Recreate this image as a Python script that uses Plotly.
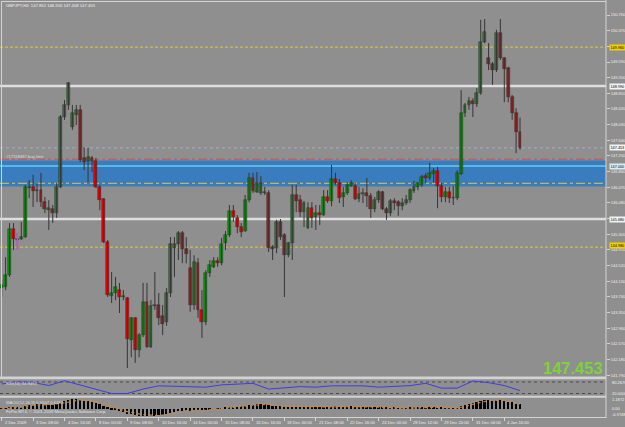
import plotly.graph_objects as go

W, H = 625, 427
def px(x): return x / W
def py(y): return 1 - y / H

# ---------------- data (GBPJPY H4 candles) ----------------
open_ = [143.96, 143.99, 144.29, 145.43, 145.16, 145.18, 145.23, 146.45, 146.48, 146.38,
         146.40, 146.10, 145.90, 145.93, 145.83, 146.48, 148.22, 148.52, 147.97, 148.27,
         148.40, 147.20, 147.13, 147.20, 147.13, 146.48, 146.18, 145.11, 143.76, 143.84,
         143.91, 143.74, 143.71, 142.67, 143.22, 142.42, 142.79, 143.61, 142.49, 143.51,
         143.54, 143.27, 143.12, 143.84, 144.96, 145.06, 145.33, 144.93, 144.46, 143.54,
         144.58, 143.42, 143.12, 144.34, 144.49, 144.63, 144.58, 145.08, 145.28, 145.88,
         145.71, 145.48, 145.38, 146.15, 146.70, 146.35, 146.33, 146.33, 146.33, 144.98,
         144.96, 145.61, 145.28, 144.78, 145.08, 146.28, 146.15, 145.85, 145.46, 145.95,
         145.73, 145.83, 145.78, 146.23, 146.13, 146.68, 146.58, 146.23, 146.33, 146.50,
         146.50, 146.18, 146.30, 146.33, 146.25, 145.93, 146.15, 146.35, 145.93, 145.83,
         146.13, 146.10, 146.00, 146.08, 146.15, 146.38, 146.48, 146.53, 146.75, 146.70,
         146.80, 146.88, 146.50, 146.23, 146.35, 146.20, 146.20, 146.80, 148.32, 148.52,
         148.62, 148.54, 148.82, 150.09, 149.69, 149.54, 149.39, 150.31, 149.69, 149.44,
         148.72, 148.32, 147.852]
high = [144.16, 144.73, 145.58, 145.58, 145.33, 145.61, 146.53, 146.65, 146.78, 146.58,
        146.83, 146.23, 146.15, 146.03, 146.58, 148.27, 148.64, 149.09, 148.52, 148.52,
        148.52, 147.47, 147.45, 147.25, 147.20, 146.53, 146.20, 145.16, 144.36, 144.24,
        144.09, 143.91, 143.74, 143.24, 143.24, 142.84, 144.09, 144.09, 143.66, 144.36,
        143.84, 143.54, 143.96, 145.23, 145.23, 145.38, 145.38, 145.23, 144.91, 144.78,
        144.71, 143.91, 144.41, 144.66, 144.73, 144.73, 145.21, 145.38, 146.03, 146.03,
        145.78, 145.58, 146.28, 146.83, 146.83, 146.85, 146.75, 146.48, 146.40, 145.03,
        145.66, 145.68, 145.33, 145.11, 146.53, 146.53, 146.28, 146.13, 146.10, 146.10,
        146.03, 146.03, 146.40, 146.40, 147.03, 146.83, 146.68, 146.48, 146.60, 146.65,
        146.58, 146.48, 146.45, 146.70, 146.33, 146.23, 146.40, 146.38, 145.98, 146.18,
        146.20, 146.15, 146.20, 146.28, 146.45, 146.63, 146.60, 146.78, 146.83, 147.08,
        146.95, 146.98, 146.58, 146.48, 146.48, 146.50, 146.90, 148.89, 148.57, 148.72,
        148.69, 148.94, 150.64, 150.66, 150.06, 149.59, 150.39, 150.66, 149.71, 149.47,
        148.77, 148.44, 148.206]
low = [143.74, 143.91, 144.24, 144.91, 144.91, 145.16, 145.21, 146.20, 145.98, 146.10,
       145.98, 145.83, 145.41, 145.58, 145.71, 146.45, 148.15, 148.40, 147.90, 148.02,
       147.10, 146.90, 146.60, 146.85, 146.45, 145.90, 145.08, 143.74, 143.59, 143.66,
       143.34, 143.66, 141.97, 142.24, 142.10, 142.24, 142.74, 142.47, 142.47, 143.42,
       143.04, 142.79, 143.02, 143.74, 144.24, 144.66, 144.58, 144.58, 143.37, 143.42,
       143.22, 142.72, 143.04, 144.24, 144.46, 144.49, 144.53, 144.91, 145.23, 145.61,
       145.33, 145.23, 145.36, 146.10, 146.33, 146.33, 146.28, 146.28, 144.86, 144.66,
       144.83, 145.16, 143.74, 144.73, 144.66, 145.85, 145.73, 145.48, 145.43, 145.46,
       145.41, 145.53, 145.76, 146.08, 146.00, 146.53, 146.08, 145.98, 146.28, 146.48,
       146.15, 146.10, 146.08, 145.98, 145.71, 145.85, 146.08, 145.90, 145.66, 145.76,
       145.90, 145.76, 145.90, 146.03, 146.08, 146.33, 146.40, 146.48, 146.58, 146.65,
       146.58, 145.95, 146.10, 146.10, 146.08, 146.03, 146.15, 146.78, 148.22, 148.40,
       148.22, 148.47, 148.77, 150.06, 149.39, 149.02, 149.34, 149.64, 148.59, 148.59,
       148.15, 147.32, 147.408]
close = [144.04, 144.29, 145.43, 145.18, 145.18, 145.23, 146.48, 146.48, 146.38, 146.40,
         146.10, 145.93, 145.95, 145.83, 146.48, 148.22, 148.52, 149.07, 148.32, 148.40,
         147.15, 147.10, 147.22, 147.13, 146.48, 146.15, 145.11, 143.79, 143.84, 143.99,
         143.74, 143.74, 142.69, 143.22, 142.42, 142.79, 143.61, 142.49, 143.51, 143.54,
         143.22, 143.07, 143.84, 145.06, 145.06, 145.33, 144.93, 144.81, 143.54, 144.61,
         143.42, 143.12, 144.34, 144.53, 144.63, 144.58, 145.06, 145.28, 145.88, 145.73,
         145.48, 145.36, 146.15, 146.70, 146.38, 146.58, 146.58, 146.33, 144.96, 144.93,
         145.61, 145.23, 144.78, 145.08, 146.28, 146.13, 145.85, 146.08, 145.95, 145.71,
         145.83, 145.78, 146.23, 146.13, 146.68, 146.58, 146.20, 146.33, 146.53, 146.58,
         146.18, 146.30, 146.33, 146.25, 145.93, 146.15, 146.35, 145.93, 145.83, 146.13,
         146.08, 146.00, 146.08, 146.15, 146.40, 146.48, 146.58, 146.73, 146.70, 146.83,
         146.88, 146.50, 146.23, 146.35, 146.20, 146.20, 146.83, 148.32, 148.52, 148.62,
         148.54, 148.82, 150.09, 150.34, 149.54, 149.39, 150.31, 149.69, 149.42, 148.72,
         148.32, 147.85, 147.453]

# oscillator window (sampled every 4 bars)
rsi_bars = [0, 4, 8, 12, 16, 20, 24, 28, 32, 36, 40, 44, 48, 52, 56, 60, 64, 68, 72, 76,
            80, 84, 88, 92, 96, 100, 104, 108, 112, 116, 120, 124, 128, 132]
rsi_vals = [70, 80, 78, 61.5, 86.5, 65, 40, 20, 20, 43, 60, 56.5, 53, 53, 65, 70, 73, 43, 48, 56,
            53, 60, 60, 60, 53, 56, 61, 73, 48, 48, 85, 76.5, 61.5, 35]
rsi_levels = [80, 20]

# MACD histogram (every bar) and signal (sampled every 4 bars)
macd_hist = [0.02, 0.05, 0.14, 0.20, 0.25, 0.29, 0.40, 0.48, 0.53, 0.57,
             0.57, 0.54, 0.52, 0.49, 0.55, 0.78, 0.95, 1.12, 1.18, 1.19,
             1.12, 1.03, 0.95, 0.86, 0.74, 0.60, 0.40, 0.12, -0.08, -0.21,
             -0.33, -0.42, -0.61, -0.66, -0.79, -0.86, -0.88, -0.97, -0.93, -0.86,
             -0.80, -0.77, -0.68, -0.52, -0.40, -0.27, -0.22, -0.17, -0.22, -0.16,
             -0.17, -0.20, -0.12, -0.05, 0.00, 0.03, 0.09, 0.15, 0.24, 0.27,
             0.29, 0.30, 0.38, 0.48, 0.52, 0.57, 0.60, 0.61, 0.47, 0.38,
             0.37, 0.31, 0.22, 0.18, 0.26, 0.29, 0.27, 0.27, 0.24, 0.22,
             0.20, 0.19, 0.22, 0.22, 0.29, 0.31, 0.29, 0.28, 0.30, 0.31,
             0.28, 0.27, 0.26, 0.25, 0.20, 0.19, 0.20, 0.16, 0.12, 0.12,
             0.11, 0.09, 0.09, 0.09, 0.11, 0.13, 0.15, 0.18, 0.19, 0.21,
             0.22, 0.17, 0.12, 0.10, 0.07, 0.05, 0.10, 0.33, 0.50, 0.63,
             0.72, 0.82, 1.05, 1.15, 1.10, 1.04, 1.09, 1.06, 1.00, 0.90,
             0.80, 0.67, 0.55]
signal_vals = [0.0, 0.15, 0.45, 0.53, 0.75, 1.15, 0.90, 0.30, -0.35, -0.75, -0.85, -0.60, -0.22,
               -0.17, 0.0, 0.25, 0.45, 0.57, 0.32, 0.27, 0.23, 0.24, 0.29, 0.28, 0.21, 0.13,
               0.09, 0.16, 0.17, 0.08, 0.52, 1.05, 1.10, 0.62]

# time axis labels (every 8 bars)
time_labels = ["2 Dec 2009", "3 Dec 08:00", "4 Dec 16:00", "8 Dec 00:00", "9 Dec 08:00",
               "10 Dec 16:00", "14 Dec 00:00", "15 Dec 08:00", "16 Dec 16:00", "18 Dec 00:00",
               "21 Dec 08:00", "22 Dec 16:00", "24 Dec 00:00", "28 Dec 12:00", "29 Dec 20:00",
               "31 Dec 04:00", "4 Jan 16:00"]
price_ticks = [141.79, 142.18, 142.57, 142.96, 143.35, 143.74, 144.13, 144.52, 144.91, 145.30,
               145.69, 146.08, 146.47, 146.86, 147.25, 147.64, 148.03, 148.42, 148.81, 149.20,
               149.59, 149.98, 150.37, 150.76]

# chart objects (price levels)
tp_levels = [149.96, 144.98]          # yellow dashed
white_levels = [148.99, 145.68]       # white solid
bid_price = 147.453
order_price = 147.00                  # cyan (buy limit)
order_band = [146.49, 147.14]
red_dashdot = 147.17
yellow_dashdot = 146.57

BG = "#8f8f8f"
LIGHT = "#d4d4d4"
FONT = "Liberation Sans, Arial, sans-serif"

n = len(close)
idx = list(range(n))

fig = go.Figure()

# wicks
wx, wy = [], []
for i in idx:
    wx += [i, i, None]
    wy += [low[i], high[i], None]
fig.add_trace(go.Scatter(x=wx, y=wy, mode="lines", line=dict(color="#353535", width=1),
                         xaxis="x", yaxis="y", hoverinfo="skip", showlegend=False))
# magenta marker line on bar 4
fig.add_trace(go.Scatter(x=[4, 4], y=[low[4], high[4]], mode="lines",
                         line=dict(color="#e040e0", width=1.5), xaxis="x", yaxis="y",
                         showlegend=False, hoverinfo="skip"))
# bodies
base = [min(o, c) for o, c in zip(open_, close)]
hgt = [max(abs(c - o), 0.012) for o, c in zip(open_, close)]
cols = ["#0c960c" if c >= o else "#f00000" for o, c in zip(open_, close)]
fig.add_trace(go.Bar(x=idx, y=hgt, base=base, width=0.74,
                     marker=dict(color=cols, line=dict(color="#2a2a2a", width=0.5)),
                     xaxis="x", yaxis="y", showlegend=False, hoverinfo="skip"))

# RSI-type oscillator
fig.add_trace(go.Scatter(x=rsi_bars, y=rsi_vals, mode="lines",
                         line=dict(color="#3d3de6", width=1), xaxis="x2", yaxis="y2",
                         showlegend=False, hoverinfo="skip"))

# MACD
fig.add_trace(go.Bar(x=idx, y=macd_hist, width=0.45, marker=dict(color="#000000", line=dict(width=0)),
                     xaxis="x3", yaxis="y3", showlegend=False, hoverinfo="skip"))
fig.add_trace(go.Scatter(x=rsi_bars, y=signal_vals, mode="lines",
                         line=dict(color="#e8821e", width=1.2, dash="dot"), xaxis="x3", yaxis="y3",
                         showlegend=False, hoverinfo="skip"))

shapes = []
XR = px(606)
# order band and lines
shapes.append(dict(type="rect", xref="paper", yref="y", x0=0, x1=XR, y0=order_band[0], y1=order_band[1],
                   fillcolor="#3a7cbd", line=dict(width=0), layer="below"))
shapes.append(dict(type="line", xref="paper", yref="y", x0=0, x1=XR, y0=order_price, y1=order_price,
                   line=dict(color="#5fd0f0", width=1.5), layer="below"))
shapes.append(dict(type="line", xref="paper", yref="y", x0=0, x1=XR, y0=yellow_dashdot, y1=yellow_dashdot,
                   line=dict(color="#d8cc48", width=1, dash="dashdot"), layer="below"))
shapes.append(dict(type="line", xref="paper", yref="y", x0=0, x1=XR, y0=red_dashdot, y1=red_dashdot,
                   line=dict(color="#d05050", width=1, dash="dashdot"), layer="below"))
shapes.append(dict(type="line", xref="paper", yref="y", x0=0, x1=XR, y0=bid_price, y1=bid_price,
                   line=dict(color="#a9a9c6", width=1, dash="dot"), layer="below"))
for lv in tp_levels:
    shapes.append(dict(type="line", xref="paper", yref="y", x0=0, x1=XR, y0=lv, y1=lv,
                       line=dict(color="#dcc83c", width=1, dash="3px,2px"), layer="below"))
for lv in white_levels:
    shapes.append(dict(type="line", xref="paper", yref="y", x0=0, x1=XR, y0=lv, y1=lv,
                       line=dict(color="#dedede", width=2.5), layer="below"))
for lv in rsi_levels:
    shapes.append(dict(type="line", xref="paper", yref="y2", x0=0, x1=XR, y0=lv, y1=lv,
                       line=dict(color="#4a4a4a", width=1, dash="dot"), layer="below"))

# frames / separators
shapes += [
    dict(type="line", xref="paper", yref="paper", x0=px(1.5), x1=XR, y0=py(1.5), y1=py(1.5),
         line=dict(color=LIGHT, width=1)),
    dict(type="line", xref="paper", yref="paper", x0=px(1.5), x1=px(1.5), y0=py(1.5), y1=py(377),
         line=dict(color=LIGHT, width=1)),
    dict(type="line", xref="paper", yref="paper", x0=XR, x1=XR, y0=py(0), y1=py(418),
         line=dict(color=LIGHT, width=1)),
    dict(type="rect", xref="paper", yref="paper", x0=0, x1=XR, y0=py(379.2), y1=py(376.6),
         fillcolor="#d2d2d2", line=dict(width=0)),
    dict(type="rect", xref="paper", yref="paper", x0=0, x1=XR, y0=py(397.8), y1=py(395.8),
         fillcolor="#d2d2d2", line=dict(width=0)),
    dict(type="line", xref="paper", yref="paper", x0=0, x1=XR, y0=py(417.5), y1=py(417.5),
         line=dict(color=LIGHT, width=1)),
]

ann = []
def txt(x, y, s, size=4.2, color="#f2f2f2", xanchor="left", **kw):
    ann.append(dict(x=x, y=y, xref="paper", yref="paper", text=s, showarrow=False,
                    xanchor=xanchor, yanchor="middle", font=dict(family=FONT, size=size, color=color), **kw))

txt(px(4), py(5), "GBPJPY,H4  147.852 148.206 147.408 147.453")
txt(px(4), py(156.5), "#17158487 buy limit", color="#dedede")
txt(px(4), py(383), "RSI(14) 34.9453", color="#dedede")
txt(px(4), py(402), "MACD(12,26,9) 0.5507 0.6182", color="#dedede")
txt(px(4), py(411.5), "FxPro MT4, \u00a9 2001-2009 MetaQuotes Software Corp.", color="#e8e8e8")
txt(px(605), py(367.5), "<b>" + format(close[-1], ".3f") + "</b>", size=16.5, color="#7ed23a", xanchor="right")

# sub-window scale labels
txt(px(610), py(382), "80.2676", size=4)
txt(px(610), py(393.5), "20.0000", size=4)
txt(px(610), py(399), "1.1872", size=4)
txt(px(610), py(408.5), "0.00", size=4)
txt(px(610), py(414), "-0.9748", size=4)

# highlighted price labels on the right scale (they cover the scale label beneath them)
tagged = tp_levels + white_levels + [bid_price, order_price]
def tag(price, bg, yshift=0):
    ann.append(dict(x=px(608.5), y=price, xref="paper", yref="y", text=format(price, ".3f"),
                    showarrow=False, xanchor="left", yanchor="middle", bgcolor=bg, borderpad=0.5,
                    yshift=yshift, font=dict(family=FONT, size=3.8, color="#000000")))
tag(tp_levels[0], "#f2d000")
tag(tp_levels[1], "#f2d000", yshift=1.5)
for lv in white_levels:
    tag(lv, "#f4f4f4")
tag(bid_price, "#f4f4f4")
tag(order_price, "#dcecf2")

tick_text = ["" if any(abs(v - t) < 0.05 for t in tagged) else format(v, ".3f") for v in price_ticks]

# time labels
for k, lab in enumerate(time_labels):
    ann.append(dict(x=k * 8, y=py(422.5), xref="x3", yref="paper", text=lab, showarrow=False,
                    xanchor="left", yanchor="middle", xshift=1,
                    font=dict(family=FONT, size=4.2, color="#eeeeee")))

xr = [-0.43, 153.9]
xdom = [0, XR]
fig.update_layout(
    width=W, height=H, margin=dict(l=0, r=0, t=0, b=0),
    paper_bgcolor=BG, plot_bgcolor=BG, showlegend=False, bargap=0,
    xaxis=dict(domain=xdom, range=xr, visible=False, anchor="y"),
    yaxis=dict(domain=[py(377), py(2)], range=[141.747, 151.084], side="right", anchor="x",
               tickvals=price_ticks, ticktext=tick_text,
               ticks="outside", ticklen=3, tickcolor=LIGHT, showgrid=False, zeroline=False,
               showline=False, tickfont=dict(family=FONT, size=4, color="#eeeeee")),
    xaxis2=dict(domain=xdom, range=xr, visible=False, anchor="y2"),
    yaxis2=dict(domain=[py(396), py(380)], range=[6.95, 90.4], visible=False, anchor="x2"),
    xaxis3=dict(domain=xdom, range=xr, anchor="y3", showgrid=False, zeroline=False, showline=False,
                tickvals=[k * 8 for k in range(len(time_labels))], ticks="outside", ticklen=3,
                tickcolor=LIGHT, showticklabels=False),
    yaxis3=dict(domain=[py(417), py(398)], range=[-1.035, 1.367], visible=False, anchor="x3"),
    shapes=shapes, annotations=ann,
)

fig.write_html("out.html")
